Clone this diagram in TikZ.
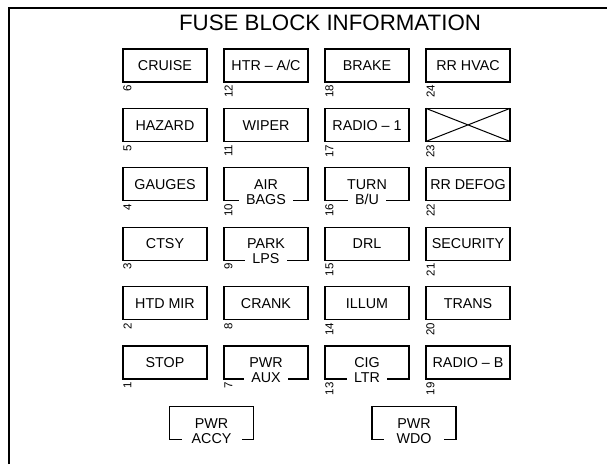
\documentclass[tikz,border=0pt]{standalone}
\usepackage{fontspec}
\setmainfont{Liberation Sans}
\usepackage{tikz}
\usetikzlibrary{positioning, calc}

\begin{document}
\begin{tikzpicture}[
    x=1pt, y=1pt,
    font=\fontsize{14.3}{14.3}\selectfont,
    fuse/.style={rectangle, draw=black, line width=1.2pt, outer sep=0pt,
                 minimum width=84pt, minimum height=33pt, inner sep=0pt,
                 text height=10.2pt, text depth=0pt, align=center},
    low/.style={fill=white, inner xsep=7pt, inner ysep=1pt, anchor=base},
    num/.style={rotate=90, anchor=east, inner sep=0pt,
                font=\fontsize{11.5}{11.5}\selectfont},
    frame/.style={line width=2.2pt},
    node distance=26.4pt and 17pt
  ]
    \useasboundingbox (0,0) rectangle (607,-464);

    % Outer frame
    \draw[frame] (9,-464) -- (9,-8) -- (607,-8);

    % Title
    \node[font=\fontsize{22.3}{22.3}\selectfont, text height=16pt, text depth=0pt,
          inner sep=0pt] (title) at (330,-22.6) {FUSE BLOCK INFORMATION};

    % Column 1
    \node[fuse] (cruise) at (165,-65.5) {CRUISE};
    \node[fuse, below=of cruise] (hazard) {HAZARD};
    \node[fuse, below=of hazard] (gauges) {GAUGES};
    \node[fuse, below=of gauges] (ctsy)   {CTSY};
    \node[fuse, below=of ctsy]   (htdmir) {HTD MIR};
    \node[fuse, below=of htdmir] (stop)   {STOP};

    % Column 2
    \node[fuse, right=of cruise] (htrac)   {HTR – A/C};
    \node[fuse, right=of hazard] (wiper)   {WIPER};
    \node[fuse, right=of gauges] (airbags) {AIR};
    \node[fuse, right=of ctsy]   (parklps) {PARK};
    \node[fuse, right=of htdmir] (crank)   {CRANK};
    \node[fuse, right=of stop]   (pwraux)  {PWR};

    % Column 3
    \node[fuse, right=of htrac]   (brake)    {BRAKE};
    \node[fuse, right=of wiper]   (radioone) {RADIO – 1};
    \node[fuse, right=of airbags] (turnbu)   {TURN};
    \node[fuse, right=of parklps] (drl)      {DRL};
    \node[fuse, right=of crank]   (illum)    {ILLUM};
    \node[fuse, right=of pwraux]  (cigltr)   {CIG};

    % Column 4
    \node[fuse, right=of brake]    (rrhvac)   {RR HVAC};
    \node[fuse, right=of radioone] (blank)    {};
    \node[fuse, right=of turnbu]   (rrdefog)  {RR DEFOG};
    \node[fuse, right=of drl]      (security) {SECURITY};
    \node[fuse, right=of illum]    (trans)    {TRANS};
    \node[fuse, right=of cigltr]   (radiob)   {RADIO – B};

    \draw[line width=1pt] (blank.north west) -- (blank.south east)
                          (blank.south west) -- (blank.north east);

    % Bottom pair
    \node[fuse] (pwraccy) at ($(stop.south)!0.5!(pwraux.south)+(-4,-44)$) {PWR};
    \node[fuse] (pwrwdo)  at ($(cigltr.south)!0.5!(radiob.south)+(-3.5,-44)$) {PWR};

    % Second lines sitting on the bottom edge
    \node[low] (bags) at ([yshift=-3.5pt]airbags.south) {BAGS};
    \node[low] (lps)  at ([yshift=-3.5pt]parklps.south) {LPS};
    \node[low] (aux)  at ([yshift=-3.5pt]pwraux.south)  {AUX};
    \node[low] (bu)   at ([yshift=-3.5pt]turnbu.south)  {B/U};
    \node[low] (ltr)  at ([yshift=-3.5pt]cigltr.south)  {LTR};
    \node[low, minimum width=60pt] (accy) at ([yshift=-3.5pt]pwraccy.south) {ACCY};
    \node[low, minimum width=60pt] (wdo)  at ([yshift=-3.5pt]pwrwdo.south)  {WDO};

    % Fuse numbers
    \node[num] (f6)  at ([xshift=4.5pt,yshift=-3pt]cruise.south west)   {6};
    \node[num] (f5)  at ([xshift=4.5pt,yshift=-3pt]hazard.south west)   {5};
    \node[num] (f4)  at ([xshift=4.5pt,yshift=-3pt]gauges.south west)   {4};
    \node[num] (f3)  at ([xshift=4.5pt,yshift=-3pt]ctsy.south west)     {3};
    \node[num] (f2)  at ([xshift=4.5pt,yshift=-3pt]htdmir.south west)   {2};
    \node[num] (f1)  at ([xshift=4.5pt,yshift=-3pt]stop.south west)     {1};
    \node[num] (f12) at ([xshift=4.5pt,yshift=-3pt]htrac.south west)    {12};
    \node[num] (f11) at ([xshift=4.5pt,yshift=-3pt]wiper.south west)    {11};
    \node[num] (f10) at ([xshift=4.5pt,yshift=-3pt]airbags.south west)  {10};
    \node[num] (f9)  at ([xshift=4.5pt,yshift=-3pt]parklps.south west)  {9};
    \node[num] (f8)  at ([xshift=4.5pt,yshift=-3pt]crank.south west)    {8};
    \node[num] (f7)  at ([xshift=4.5pt,yshift=-3pt]pwraux.south west)   {7};
    \node[num] (f18) at ([xshift=4.5pt,yshift=-3pt]brake.south west)    {18};
    \node[num] (f17) at ([xshift=4.5pt,yshift=-3pt]radioone.south west) {17};
    \node[num] (f16) at ([xshift=4.5pt,yshift=-3pt]turnbu.south west)   {16};
    \node[num] (f15) at ([xshift=4.5pt,yshift=-3pt]drl.south west)      {15};
    \node[num] (f14) at ([xshift=4.5pt,yshift=-3pt]illum.south west)    {14};
    \node[num] (f13) at ([xshift=4.5pt,yshift=-3pt]cigltr.south west)   {13};
    \node[num] (f24) at ([xshift=4.5pt,yshift=-3pt]rrhvac.south west)   {24};
    \node[num] (f23) at ([xshift=4.5pt,yshift=-3pt]blank.south west)    {23};
    \node[num] (f22) at ([xshift=4.5pt,yshift=-3pt]rrdefog.south west)  {22};
    \node[num] (f21) at ([xshift=4.5pt,yshift=-3pt]security.south west) {21};
    \node[num] (f20) at ([xshift=4.5pt,yshift=-3pt]trans.south west)    {20};
    \node[num] (f19) at ([xshift=4.5pt,yshift=-3pt]radiob.south west)   {19};
  \end{tikzpicture}
\end{document}
